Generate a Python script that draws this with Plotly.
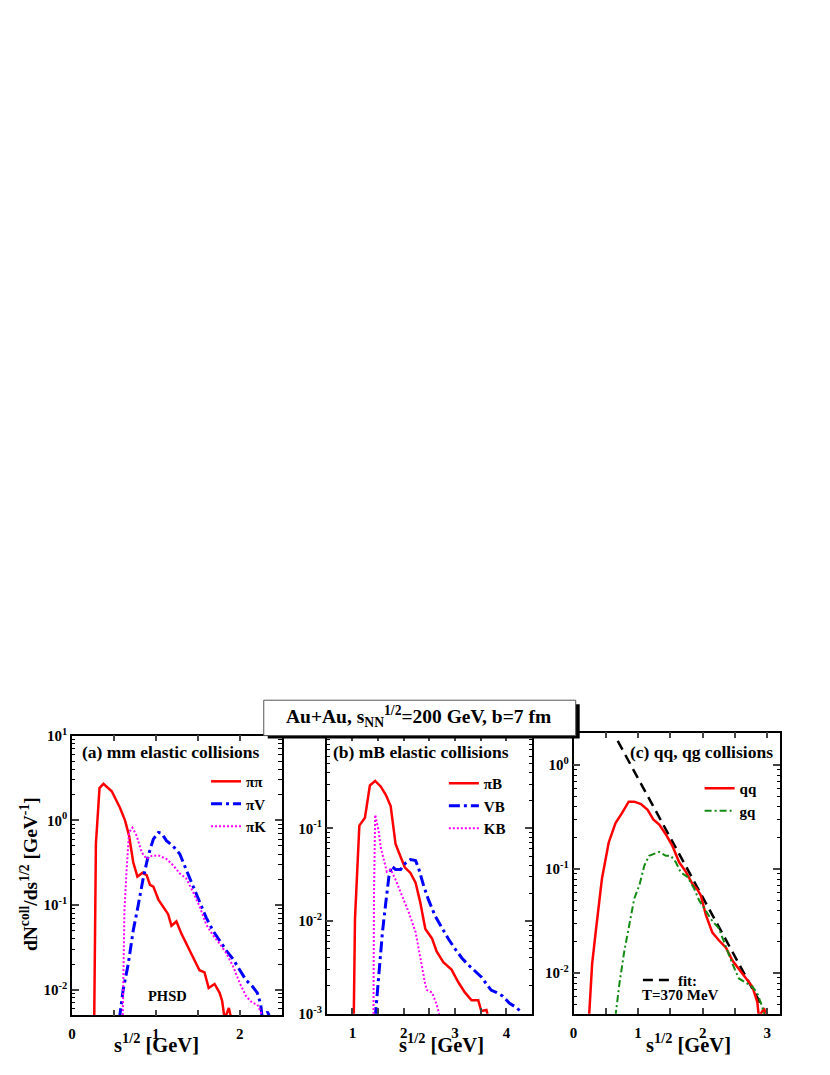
import plotly.graph_objects as go
import math

# ---------------- data ----------------
# panel (a): meson-meson elastic collisions
pipi_x = [0.265, 0.285, 0.328, 0.375, 0.474, 0.573, 0.632, 0.68, 0.73, 0.78, 0.84, 0.89, 0.93, 0.97,
          1.03, 1.09, 1.146, 1.186, 1.245, 1.304, 1.38, 1.44, 1.52, 1.58, 1.63, 1.70, 1.76, 1.79,
          1.82, 1.87, 1.90]
pipi_y = [0.0045, 0.53, 2.4, 2.7, 2.2, 1.4, 1.0, 0.66, 0.32, 0.216, 0.24, 0.226, 0.173, 0.165,
          0.116, 0.093, 0.078, 0.057, 0.064, 0.046, 0.033, 0.0245, 0.017, 0.016, 0.0105, 0.0117,
          0.0092, 0.0074, 0.0045, 0.0061, 0.0045]

piV_x = [0.565, 0.61, 0.67, 0.73, 0.79, 0.85, 0.91, 0.97, 1.03, 1.07, 1.126, 1.205, 1.285, 1.36,
         1.44, 1.52, 1.60, 1.68, 1.76, 1.84, 1.92, 2.0, 2.075, 2.15, 2.21, 2.25, 2.27, 2.33, 2.37]
piV_y = [0.0045, 0.01, 0.02, 0.05, 0.1, 0.21, 0.385, 0.6, 0.72, 0.7, 0.575, 0.495, 0.40, 0.27,
         0.17, 0.11, 0.071, 0.05, 0.038, 0.029, 0.023, 0.017, 0.013, 0.011, 0.0092, 0.0067,
         0.0045, 0.0055, 0.0045]

piK_x = [0.605, 0.625, 0.65, 0.68, 0.72, 0.77, 0.83, 0.89, 0.95, 1.03, 1.126, 1.205, 1.285, 1.36,
         1.44, 1.52, 1.60, 1.68, 1.76, 1.84, 1.92, 2.0, 2.075, 2.15, 2.21, 2.25, 2.27]
piK_y = [0.0045, 0.085, 0.25, 0.72, 0.82, 0.66, 0.42, 0.35, 0.38, 0.385, 0.35, 0.295, 0.236, 0.207,
         0.145, 0.097, 0.059, 0.044, 0.035, 0.027, 0.019, 0.012, 0.0084, 0.007, 0.0067, 0.0055,
         0.0045]

# panel (b): meson-baryon elastic collisions
piB_x = [1.026, 1.05, 1.135, 1.244, 1.34, 1.443, 1.55, 1.65, 1.745, 1.84, 1.94, 2.02, 2.13, 2.23,
         2.32, 2.42, 2.55, 2.64, 2.77, 2.93, 3.06, 3.19, 3.32, 3.45, 3.51, 3.61, 3.65]
piB_y = [0.0009, 0.0105, 0.107, 0.13, 0.29, 0.325, 0.283, 0.23, 0.174, 0.068, 0.049, 0.038, 0.033,
         0.026, 0.016, 0.0082, 0.0065, 0.0047, 0.0036, 0.003, 0.0022, 0.0017, 0.0014, 0.0014,
         0.00107, 0.0011, 0.0009]

VB_x = [1.443, 1.51, 1.585, 1.65, 1.71, 1.765, 1.84, 1.94, 2.03, 2.13, 2.23, 2.29, 2.39, 2.48, 2.61,
        2.74, 2.87, 3.0, 3.13, 3.25, 3.38, 3.51, 3.61, 3.70, 3.80, 3.93, 4.06, 4.19, 4.30]
VB_y = [0.0009, 0.0025, 0.0076, 0.0158, 0.030, 0.039, 0.036, 0.036, 0.042, 0.046, 0.045, 0.037,
        0.0237, 0.017, 0.0114, 0.0085, 0.0064, 0.005, 0.004, 0.0034, 0.0029, 0.0025, 0.0021,
        0.0018, 0.0017, 0.00155, 0.0013, 0.00117, 0.00103]

KB_x = [1.41, 1.42, 1.443, 1.51, 1.55, 1.62, 1.67, 1.745, 1.84, 1.97, 2.10, 2.23, 2.32, 2.41, 2.45,
        2.55, 2.64, 2.71]
KB_y = [0.0009, 0.02, 0.14, 0.094, 0.063, 0.045, 0.034, 0.036, 0.028, 0.0185, 0.0123, 0.0076,
        0.004, 0.0022, 0.0018, 0.0017, 0.00126, 0.0009]

# panel (c): parton collisions
qq_x = [0.237, 0.288, 0.35, 0.44, 0.545, 0.65, 0.75, 0.854, 0.94, 1.044, 1.147, 1.235, 1.327, 1.43,
        1.53, 1.636, 1.74, 1.84, 1.92, 1.97, 2.05, 2.15, 2.25, 2.36, 2.46, 2.56, 2.66, 2.77, 2.845,
        2.87, 2.95, 2.98]
qq_y = [0.0035, 0.0123, 0.027, 0.081, 0.18, 0.277, 0.344, 0.444, 0.444, 0.42, 0.37, 0.30, 0.267,
        0.215, 0.167, 0.116, 0.094, 0.072, 0.063, 0.056, 0.036, 0.0245, 0.0207, 0.0176, 0.0132,
        0.011, 0.0092, 0.0074, 0.0053, 0.0038, 0.0046, 0.0038]

gq_x = [0.648, 0.71, 0.787, 0.864, 0.94, 1.02, 1.096, 1.17, 1.25, 1.327, 1.43, 1.507, 1.585, 1.66,
        1.764, 1.867, 1.944, 2.05, 2.15, 2.25, 2.356, 2.46, 2.56, 2.66, 2.77, 2.845, 2.92, 2.96]
gq_y = [0.0038, 0.0079, 0.0164, 0.029, 0.052, 0.07, 0.108, 0.134, 0.139, 0.146, 0.134, 0.134,
        0.116, 0.093, 0.084, 0.065, 0.05, 0.039, 0.0316, 0.027, 0.018, 0.0123, 0.0089, 0.0082,
        0.0074, 0.0064, 0.0048, 0.0038]

fit_x = [0.684, 1.765, 2.97]
fit_y = [1.7, 0.1, 0.0042]

# tick labels
ya_vals = [0.01, 0.1, 1, 10]
ya_text = ["10<sup>-2</sup>", "10<sup>-1</sup>", "10<sup>0</sup>", "10<sup>1</sup>"]
yb_vals = [0.001, 0.01, 0.1]
yb_text = ["10<sup>-3</sup>", "10<sup>-2</sup>", "10<sup>-1</sup>"]
yc_vals = [0.01, 0.1, 1]
yc_text = ["10<sup>-2</sup>", "10<sup>-1</sup>", "10<sup>0</sup>"]
xa_vals = [0, 0.5, 1, 1.5, 2, 2.5]
xa_text = ["0", "", "1", "", "2", ""]
xb_vals = [0.5, 1, 1.5, 2, 2.5, 3, 3.5, 4, 4.5]
xb_text = ["", "1", "", "2", "", "3", "", "4", ""]
xc_vals = [0, 0.5, 1, 1.5, 2, 2.5, 3]
xc_text = ["0", "", "1", "", "2", "", "3"]

# ---------------- layout helpers ----------------
OFF = 8            # default page body margin
W, H = 830 - 2 * OFF, 1075 - 2 * OFF
FONT = "Liberation Serif"


def X(px):
    return (px - OFF) / W


def Y(py):
    return 1 - (py - OFF) / H


def minor_vals(lo, hi):
    out = []
    for k in range(lo, hi):
        for m in range(2, 10):
            out.append(m * 10 ** k)
    return out


fig = go.Figure()

RED = "#ff0000"
BLUE = "#0000ff"
MAG = "#ff00ff"
GREEN = "#138a13"

blue_dash = "11px,4px,3px,4px"
mag_dot = "2px,2px"
green_dash = "7px,3px,2px,3px"

fig.add_trace(go.Scatter(x=pipi_x, y=pipi_y, mode="lines", name="ππ",
                         line=dict(color=RED, width=2.5), xaxis="x", yaxis="y", legend="legend"))
fig.add_trace(go.Scatter(x=piV_x, y=piV_y, mode="lines", name="πV",
                         line=dict(color=BLUE, width=3, dash=blue_dash), xaxis="x", yaxis="y", legend="legend"))
fig.add_trace(go.Scatter(x=piK_x, y=piK_y, mode="lines", name="πK",
                         line=dict(color=MAG, width=2, dash=mag_dot), xaxis="x", yaxis="y", legend="legend"))

fig.add_trace(go.Scatter(x=piB_x, y=piB_y, mode="lines", name="πB",
                         line=dict(color=RED, width=2.5), xaxis="x2", yaxis="y2", legend="legend2"))
fig.add_trace(go.Scatter(x=VB_x, y=VB_y, mode="lines", name="VB",
                         line=dict(color=BLUE, width=3, dash=blue_dash), xaxis="x2", yaxis="y2", legend="legend2"))
fig.add_trace(go.Scatter(x=KB_x, y=KB_y, mode="lines", name="KB",
                         line=dict(color=MAG, width=2, dash=mag_dot), xaxis="x2", yaxis="y2", legend="legend2"))

fig.add_trace(go.Scatter(x=fit_x, y=fit_y, mode="lines", name="fit:",
                         line=dict(color="black", width=2.5, dash="10px,6px"), xaxis="x3", yaxis="y3",
                         legend="legend4"))
fig.add_trace(go.Scatter(x=qq_x, y=qq_y, mode="lines", name="qq",
                         line=dict(color=RED, width=2.5), xaxis="x3", yaxis="y3", legend="legend3"))
fig.add_trace(go.Scatter(x=gq_x, y=gq_y, mode="lines", name="gq",
                         line=dict(color=GREEN, width=2, dash=green_dash), xaxis="x3", yaxis="y3",
                         legend="legend3"))

tickfont = dict(family=FONT, size=15, color="black", weight="bold")


def xaxis(dom, rng, vals, text, anchor):
    return dict(domain=[X(dom[0]), X(dom[1])], range=rng, anchor=anchor,
                tickvals=vals, ticktext=text, ticks="inside", ticklen=6, tickwidth=1.5,
                showline=True, linewidth=1.5, linecolor="black", mirror="ticks",
                showgrid=False, zeroline=False, tickfont=tickfont, fixedrange=True,
                ticklabelstandoff=4)


def yaxis(dom, rng, vals, text, anchor, lo, hi):
    return dict(domain=[Y(dom[1]), Y(dom[0])], range=rng, type="log", anchor=anchor,
                tickvals=vals, ticktext=text, ticks="inside", ticklen=7, tickwidth=1.5,
                showline=True, linewidth=1.5, linecolor="black", mirror="ticks",
                showgrid=False, zeroline=False, tickfont=tickfont, fixedrange=True,
                minor=dict(tickvals=minor_vals(lo, hi), ticks="inside", ticklen=3.5, tickwidth=1,
                           tickcolor="black", showgrid=False))


legfont = dict(family=FONT, size=15, color="black", weight="bold")


def legend(px, py):
    return dict(x=X(px), y=Y(py), xanchor="left", yanchor="top", bgcolor="rgba(0,0,0,0)",
                borderwidth=0, font=legfont, itemwidth=30, tracegroupgap=0, traceorder="normal")


fig.update_layout(
    width=W, height=H,
    margin=dict(l=0, r=0, t=0, b=0),
    paper_bgcolor="white", plot_bgcolor="white",
    font=dict(family=FONT, color="black", weight="bold"),
    xaxis=xaxis((68.3, 279), [0, 2.5], xa_vals, xa_text, "y"),
    yaxis=yaxis((738, 1022.5), [math.log10(0.005), 1], ya_vals, ya_text, "x", -3, 1),
    xaxis2=xaxis((324.3, 530.7), [0.5, 4.5], xb_vals, xb_text, "y2"),
    yaxis2=yaxis((738, 1021), [-3, 0], yb_vals, yb_text, "x2", -3, 0),
    xaxis3=xaxis((572.3, 780), [0, 3.2], xc_vals, xc_text, "y3"),
    yaxis3=yaxis((735, 1021), [-2.39, 0.31], yc_vals, yc_text, "x3", -3, 1),
    showlegend=True,
    legend=legend(203, 768),
    legend2=legend(442, 770),
    legend3=legend(699, 775),
    legend4=legend(637, 970),
)

# title box with shadow
fig.add_shape(type="rect", xref="paper", yref="paper", x0=X(265), x1=X(578.5), y0=Y(741), y1=Y(706),
              fillcolor="black", line=dict(width=0), layer="above")
fig.add_shape(type="rect", xref="paper", yref="paper", x0=X(261), x1=X(574.5), y0=Y(738), y1=Y(702),
              fillcolor="white", line=dict(color="#555555", width=1), layer="above")

ann = []


def A(text, px, py, size, xanchor="center", yanchor="middle", angle=0):
    ann.append(dict(text=text, x=X(px), y=Y(py), xref="paper", yref="paper", showarrow=False,
                    xanchor=xanchor, yanchor=yanchor, textangle=angle,
                    font=dict(family=FONT, size=size, color="black", weight="bold")))


A("Au+Au, s<sub>NN</sub><sup>1/2</sup>=200 GeV, b=7 fm", 417, 719, 19.5)
A("(a) mm elastic collisions", 76, 755, 17.5, xanchor="left")
A("(b) mB elastic collisions", 329, 755, 17.5, xanchor="left")
A("(c) qq, qg collisions", 627, 755, 17.5, xanchor="left")
A("PHSD", 164, 1003, 14.5)
A("T=370 MeV", 639, 1002, 15, xanchor="left")
A("dN<sup>coll</sup>/ds<sup>1/2</sup> [GeV<sup>-1</sup>]", 25, 879, 19.5, angle=-90)
A("s<sup>1/2</sup> [GeV]", 153, 1066, 20.5, yanchor="bottom")
A("s<sup>1/2</sup> [GeV]", 440, 1066, 20.5, yanchor="bottom")
A("s<sup>1/2</sup> [GeV]", 688, 1066, 20.5, yanchor="bottom")
fig.update_layout(annotations=ann)

fig.write_html("out.html")
